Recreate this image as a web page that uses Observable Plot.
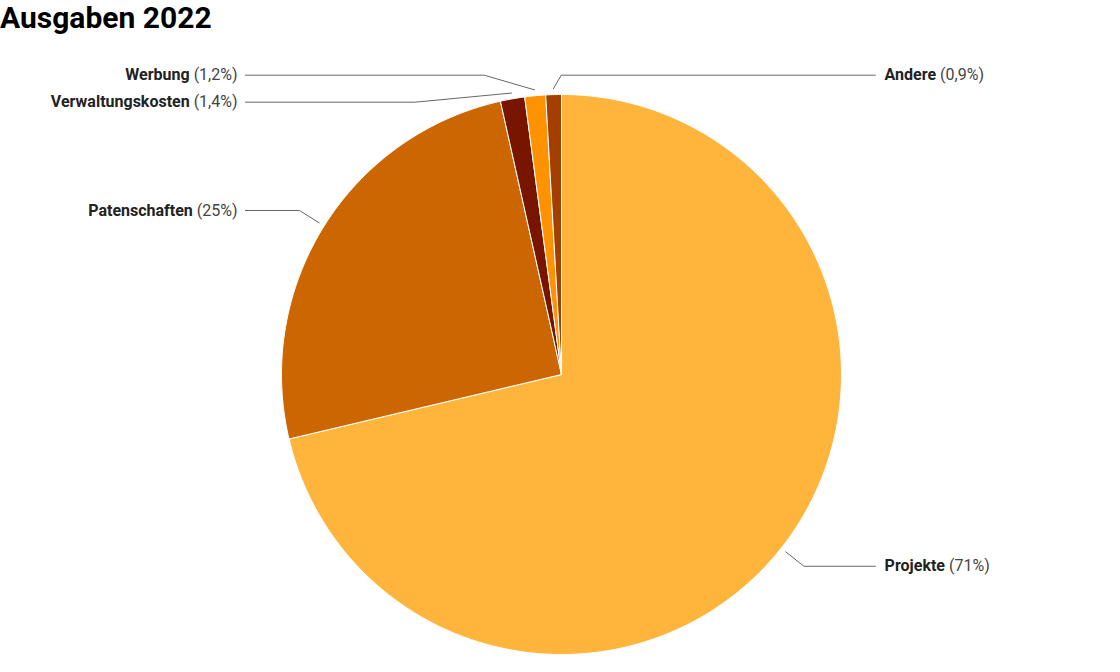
<!DOCTYPE html>
<html>
<head>
<meta charset="utf-8">
<script src="https://cdn.jsdelivr.net/npm/d3@7"></script>
<script src="https://cdn.jsdelivr.net/npm/@observablehq/plot@0.6"></script>
<style>
  html, body { margin: 0; padding: 0; background: #fff; }
  #title { font-family: Roboto, sans-serif; font-weight: 700; font-size: 30px; line-height: 36px; height: 36px; color: #000; padding-left: 0; margin: 0; }
  #chart svg { display: block; }
</style>
</head>
<body>
<div id="title">Ausgaben 2022</div>
<div id="chart"></div>
<script>
// ---- data ----
const categories = ["Projekte", "Patenschaften", "Verwaltungskosten", "Werbung", "Andere"];
const values = [71.3, 25.2, 1.4, 1.2, 0.9];
const colors = ["#FFB43C", "#CC6600", "#781500", "#FF9200", "#A33F00"];
const labelSideOverride = { "Andere": 1 }; // 1 = right, -1 = left

// ---- layout constants (in radius units) ----
const W = 1120, H = 636;
const cx = 561, cy = 338, R = 280;
const rStart = 1.021, rElbow = 1.104;
const topLimit = 1.069, spacing = 27 / R;
const lineEndLeft = -1.129, lineEndRight = 1.121;
const textLeft = -1.157, textRight = 1.154;

const total = d3.sum(values);
const fmt = d3.formatLocale({decimal: ",", thousands: ".", grouping: [3], currency: ["", "€"]}).format(".2~r");

// slices
let acc = 0;
const slices = categories.map((name, i) => {
  const a0 = acc / total * 2 * Math.PI;
  acc += values[i];
  const a1 = acc / total * 2 * Math.PI;
  return {name, value: values[i], a0, a1, mid: (a0 + a1) / 2};
});

const slicePts = [];
for (const s of slices) {
  slicePts.push({name: s.name, x: 0, y: 0});
  const n = Math.max(2, Math.ceil((s.a1 - s.a0) / (Math.PI / 360)));
  for (let k = 0; k <= n; k++) {
    const a = s.a0 + (s.a1 - s.a0) * k / n;
    slicePts.push({name: s.name, x: Math.sin(a), y: Math.cos(a)});
  }
  slicePts.push({name: s.name, x: 0, y: 0});
}

// labels
const labels = slices.map(s => {
  const natSide = Math.sin(s.mid) >= 0 ? 1 : -1;
  const side = labelSideOverride[s.name] ?? natSide;
  return {
    ...s, side, natSide,
    sx: rStart * Math.sin(s.mid), sy: rStart * Math.cos(s.mid),
    ny: rElbow * Math.cos(s.mid),
    text: `${s.name} (${fmt(s.value / total * 100)}%)`
  };
});
for (const side of [-1, 1]) {
  const group = labels.filter(l => l.side === side).sort((a, b) => b.ny - a.ny);
  let prev = Infinity;
  for (const l of group) {
    let y = Math.min(l.ny, topLimit);
    if (y > prev - spacing) y = prev - spacing;
    l.ly = y;
    prev = y;
  }
}
const leaderPts = [];
for (const l of labels) {
  let ex;
  if (l.side === l.natSide && Math.abs(l.ly) <= rElbow) {
    ex = l.side * Math.sqrt(rElbow * rElbow - l.ly * l.ly);
  } else {
    ex = l.sx + l.side * Math.abs(l.ly - l.sy) / Math.tan(Math.PI / 3);
  }
  leaderPts.push({name: l.name, x: l.sx, y: l.sy});
  leaderPts.push({name: l.name, x: ex, y: l.ly});
  leaderPts.push({name: l.name, x: l.side > 0 ? lineEndRight : lineEndLeft, y: l.ly});
}
const leftLabels = labels.filter(l => l.side < 0);
const rightLabels = labels.filter(l => l.side > 0);

const chart = Plot.plot({
  width: W,
  height: H,
  margin: 0,
  style: {fontFamily: "Roboto, sans-serif", fontSize: "16px", background: "white", overflow: "visible"},
  x: {type: "linear", domain: [-1, 1], range: [cx - R, cx + R], axis: null},
  y: {type: "linear", domain: [-1, 1], range: [cy + R, cy - R], axis: null},
  color: {type: "ordinal", domain: categories, range: colors},
  marks: [
    Plot.line(slicePts, {x: "x", y: "y", z: "name", fill: "name", stroke: "white", strokeWidth: 1, strokeLinejoin: "round", curve: "linear"}),
    Plot.line(leaderPts, {x: "x", y: "y", z: "name", stroke: "#666", strokeWidth: 1, curve: "linear"}),
    Plot.text(leftLabels, {x: () => textLeft, y: "ly", text: "text", textAnchor: "end", fontSize: 16, className: "pie-labels"}),
    Plot.text(rightLabels, {x: () => textRight, y: "ly", text: "text", textAnchor: "start", fontSize: 16, className: "pie-labels"})
  ]
});

// split each label into bold name + regular percentage
d3.select(chart).selectAll("g.pie-labels text").each(function () {
  const t = d3.select(this);
  const s = t.text();
  const idx = s.lastIndexOf(" (");
  const name = s.slice(0, idx), pct = s.slice(idx);
  t.text(null);
  t.append("tspan").attr("font-weight", 700).attr("fill", "#222").text(name);
  t.append("tspan").attr("font-weight", 400).attr("fill", "#444").text(pct);
});

document.getElementById("chart").appendChild(chart);
</script>
</body>
</html>
